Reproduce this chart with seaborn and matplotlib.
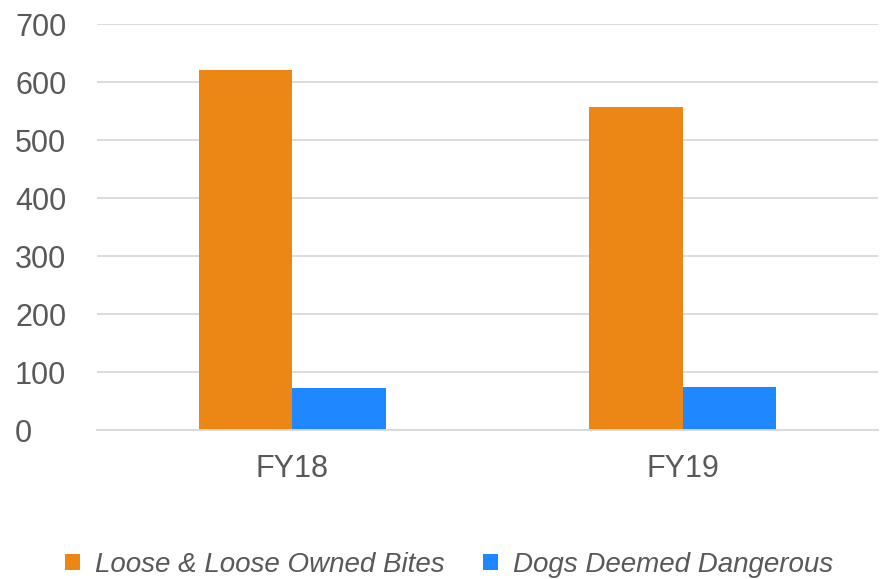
import pandas as pd
import matplotlib.pyplot as plt
import seaborn as sns

years = ["FY18", "FY19"]
bites = [620, 557]
dangerous = [72, 75]
series_names = ["Loose & Loose Owned Bites", "Dogs Deemed Dangerous"]
colors = ["#EC8716", "#1F87FF"]

df = pd.DataFrame({
    "year": years * 2,
    "count": bites + dangerous,
    "series": [series_names[0]] * 2 + [series_names[1]] * 2,
})

sns.set_style("white")
plt.rcParams['font.family'] = ['Liberation Sans', 'DejaVu Sans']

fig = plt.figure(figsize=(8.84, 5.79), dpi=100)
ax = fig.add_axes([0.1097, 0.2573, 0.8835, 0.7012])

sns.barplot(data=df, x="year", y="count", hue="series", palette=colors,
            width=0.48, saturation=1, ax=ax, legend=True,
            edgecolor="none")

ax.set_xlim(-0.5, 1.5)
ax.set_ylim(0, 700)
ax.set_yticks(range(0, 701, 100))
ax.yaxis.grid(True, color="#D9D9D9", linewidth=1.3)
ax.set_axisbelow(True)
for s in ["top", "right", "left"]:
    ax.spines[s].set_visible(False)
ax.spines["bottom"].set_color("#D9D9D9")
ax.spines["bottom"].set_linewidth(1.3)
ax.tick_params(axis="both", length=0, labelsize=22, labelcolor="#595959")
ax.tick_params(axis="y", pad=59)
ax.tick_params(axis="x", pad=17)
for lbl in ax.get_yticklabels():
    lbl.set_horizontalalignment("left")
ax.set_xlabel("")
ax.set_ylabel("")

handles, labels = ax.get_legend_handles_labels()
ax.get_legend().remove()
leg = fig.legend(handles, labels, loc="center", bbox_to_anchor=(0.508, 0.025),
                 ncol=2, frameon=False, handlelength=0.52, handleheight=0.52,
                 handletextpad=0.54, columnspacing=1.4,
                 prop={"size": 20, "style": "italic"})
for t in leg.get_texts():
    t.set_color("#595959")

plt.savefig("out.png", dpi=100)
plt.close('all')
